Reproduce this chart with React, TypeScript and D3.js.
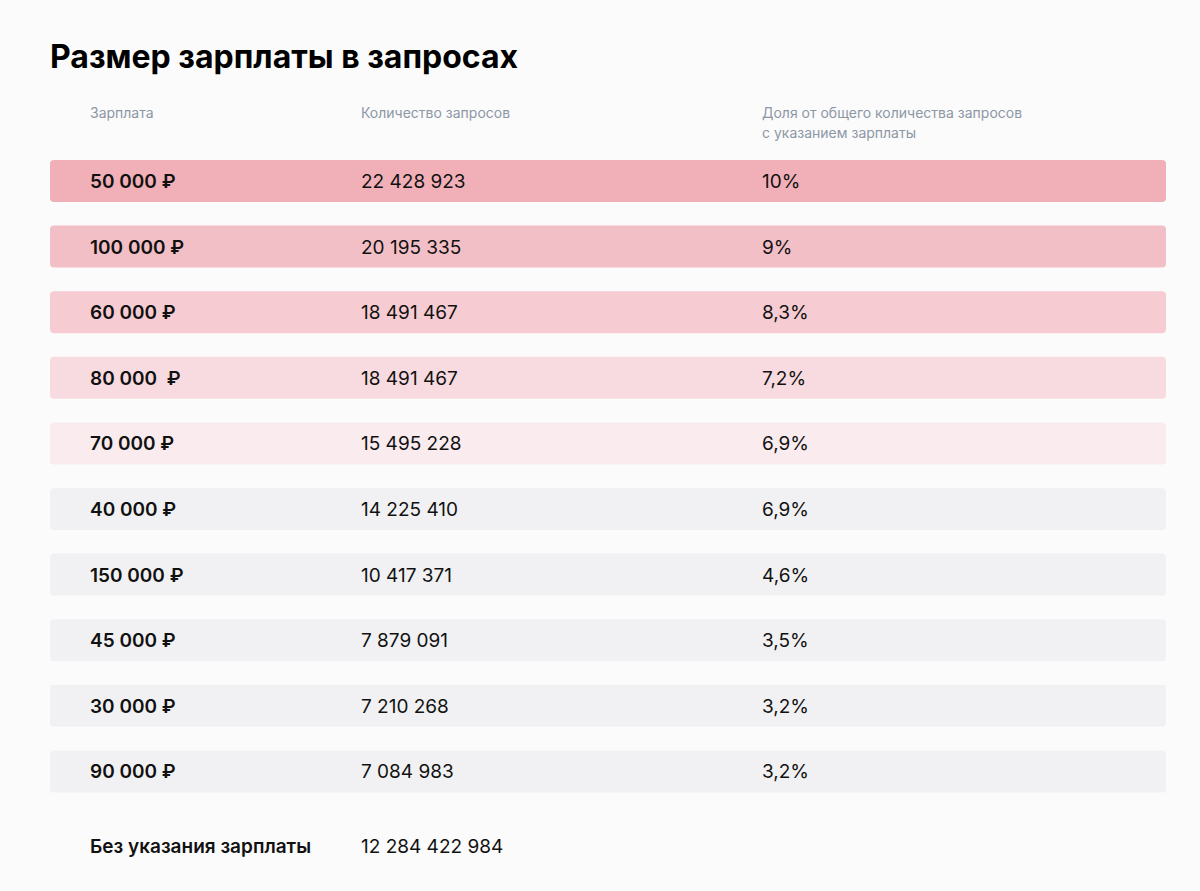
import React from "react";
import * as d3 from "d3";

const salaries = ["50 000 ₽", "100 000 ₽", "60 000 ₽", "80 000  ₽", "70 000 ₽", "40 000 ₽", "150 000 ₽", "45 000 ₽", "30 000 ₽", "90 000 ₽"];
const counts = ["22 428 923", "20 195 335", "18 491 467", "18 491 467", "15 495 228", "14 225 410", "10 417 371", "7 879 091", "7 210 268", "7 084 983"];
const shares = ["10%", "9%", "8,3%", "7,2%", "6,9%", "6,9%", "4,6%", "3,5%", "3,2%", "3,2%"];
const rowColors = ["#f1b0b8", "#f3bfc6", "#f6ccd2", "#f8dbe0", "#f9ebee", "#f1f1f3", "#f1f1f3", "#f1f1f3", "#f1f1f3", "#f1f1f3"];
const headers = ["Зарплата", "Количество запросов", ["Доля от общего количества запросов", "с указанием зарплаты"]];
const title = "Размер зарплаты в запросах";
const noSalaryLabel = "Без указания зарплаты";
const noSalaryCount = "12 284 422 984";

const W = 1200;
const H = 891;
const FONT = "Inter, 'Noto Sans', sans-serif";

export default function App() {
  const y = d3
    .scaleBand<number>()
    .domain(d3.range(salaries.length))
    .range([160, 792.4])
    .paddingInner(0.36)
    .paddingOuter(0);
  const colX = [90, 361, 762];
  const bw = y.bandwidth();

  return (
    <svg
      width={W}
      height={H}
      style={{ position: "absolute", left: 0, top: 0, background: "#fbfbfb" }}
      fontFamily={FONT}
    >
      <rect x={0} y={0} width={W} height={H} fill="#fbfbfb" />
      <text x={50} y={68} fontSize={32} fontWeight={700} fill="#000">
        {title}
      </text>
      <text x={colX[0]} y={118} fontSize={14} fill="#8d97a5">{headers[0] as string}</text>
      <text x={colX[1]} y={118} fontSize={14} fill="#8d97a5">{headers[1] as string}</text>
      <text x={colX[2]} y={118} fontSize={14} fill="#8d97a5">
        {(headers[2] as string[]).map((l, i) => (
          <tspan key={i} x={colX[2]} dy={i === 0 ? 0 : 20}>{l}</tspan>
        ))}
      </text>
      {salaries.map((s, i) => {
        const top = y(i)!;
        const cy = top + bw / 2 + 7;
        return (
          <g key={i}>
            <rect x={50} y={top} width={1116} height={bw} rx={4} fill={rowColors[i]} />
            <text x={colX[0]} y={cy} fontSize={19} fontWeight={600} fill="#111" style={{ whiteSpace: "pre" }}>{s}</text>
            <text x={colX[1]} y={cy} fontSize={19} fill="#111">{counts[i]}</text>
            <text x={colX[2]} y={cy} fontSize={19} fill="#111">{shares[i]}</text>
          </g>
        );
      })}
      <text x={colX[0]} y={853} fontSize={19} fontWeight={600} fill="#111">{noSalaryLabel}</text>
      <text x={colX[1]} y={853} fontSize={19} fill="#111">{noSalaryCount}</text>
    </svg>
  );
}
